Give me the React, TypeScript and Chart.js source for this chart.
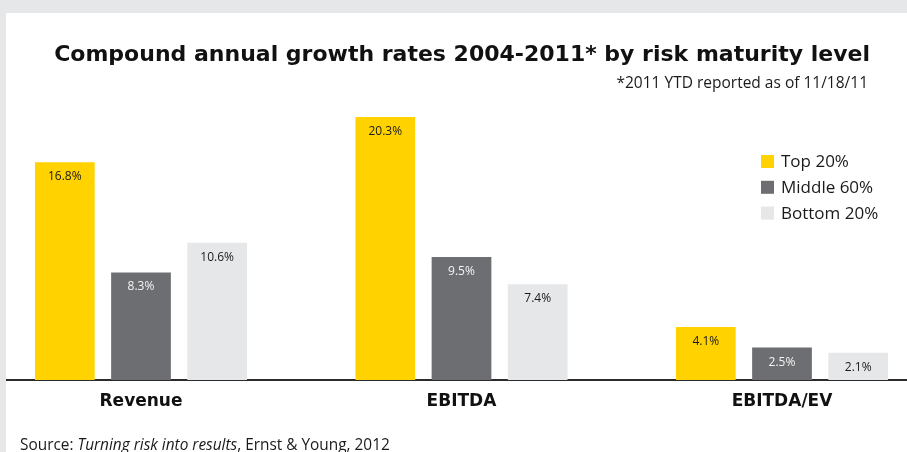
import React, { useEffect, useRef } from "react";
import { Chart, registerables } from "chart.js";

Chart.register(...registerables);

const categories = ["Revenue", "EBITDA", "EBITDA/EV"];
const seriesNames = ["Top 20%", "Middle 60%", "Bottom 20%"];
const top20 = [16.8, 20.3, 4.1];
const middle60 = [8.3, 9.5, 2.5];
const bottom20 = [10.6, 7.4, 2.1];
const seriesColors = ["#FFD200", "#6D6E71", "#E6E7E8"];
const labelColors = ["#1a1a1a", "#f4f4f4", "#1a1a1a"];
const titleText = "Compound annual growth rates 2004-2011* by risk maturity level";
const subtitleText = "*2011 YTD reported as of 11/18/11";
const sourceParts = [
  { text: "Source: ", italic: false },
  { text: "Turning risk into results", italic: true },
  { text: ", Ernst & Young, 2012", italic: false },
];

const SHIFT = 40; // canvas starts 40px left of the page
const CW = 1000;
const CH = 452;

const textPlugin = {
  id: "ey-texts",
  afterDatasetsDraw(chart: any) {
    const ctx = chart.ctx as CanvasRenderingContext2D;
    ctx.save();
    // value labels
    ctx.font = "12px 'Open Sans'";
    ctx.textAlign = "center";
    ctx.textBaseline = "alphabetic";
    chart.data.datasets.forEach((ds: any, di: number) => {
      const meta = chart.getDatasetMeta(di);
      meta.data.forEach((el: any, i: number) => {
        ctx.fillStyle = labelColors[di];
        ctx.fillText(ds.data[i].toFixed(1) + "%", el.x, el.y + 18);
      });
    });
    // legend
    chart.data.datasets.forEach((ds: any, di: number) => {
      const y = 155 + di * 25.8;
      ctx.fillStyle = ds.backgroundColor;
      ctx.fillRect(761 + SHIFT, y, 13, 13);
      ctx.fillStyle = "#1a1a1a";
      ctx.font = "17px 'Open Sans'";
      ctx.textAlign = "left";
      ctx.fillText(ds.label, 781 + SHIFT, y + 12);
    });
    // title
    ctx.fillStyle = "#111";
    ctx.textAlign = "right";
    ctx.font = "bold 22px 'DejaVu Sans'";
    ctx.fillText(titleText, 870 + SHIFT, 61);
    ctx.font = "15.5px 'Open Sans'";
    ctx.fillStyle = "#1a1a1a";
    ctx.fillText(subtitleText, 868 + SHIFT, 88);
    // source
    ctx.textAlign = "left";
    let x = 20 + SHIFT;
    sourceParts.forEach((p) => {
      ctx.font = (p.italic ? "italic " : "") + "15.4px 'Open Sans'";
      ctx.fillText(p.text, x, 450);
      x += ctx.measureText(p.text).width;
    });
    ctx.restore();
  },
};

export default function App() {
  const ref = useRef<HTMLCanvasElement | null>(null);

  useEffect(() => {
    document.body.style.margin = "0";
    const canvas = ref.current;
    if (!canvas) return;
    const data = [top20, middle60, bottom20];
    const chart = new Chart(canvas, {
      type: "bar",
      data: {
        labels: categories,
        datasets: seriesNames.map((name, i) => ({
          label: name,
          data: data[i],
          backgroundColor: seriesColors[i],
          borderWidth: 0,
          categoryPercentage: 0.713,
          barPercentage: 0.784,
        })),
      },
      options: {
        animation: false,
        responsive: false,
        maintainAspectRatio: false,
        layout: { padding: { left: 20.75, right: 17.75, top: 95, bottom: 29.6 } },
        plugins: {
          legend: { display: false },
          title: { display: false },
          tooltip: { enabled: false },
        },
        scales: {
          x: {
            grid: { display: false, drawTicks: false },
            border: { display: true, color: "#2b2b2b", width: 2 },
            ticks: {
              padding: 11,
              color: "#111",
              font: { family: "'DejaVu Sans'", size: 17, weight: "bold" },
            },
          },
          y: {
            display: false,
            min: 0,
            max: 22,
          },
        },
      },
      plugins: [textPlugin],
    });
    return () => chart.destroy();
  }, []);

  return (
    <div
      style={{
        position: "relative",
        width: 907,
        height: 452,
        overflow: "hidden",
        background: "#E6E7E8",
      }}
    >
      <div
        style={{
          position: "absolute",
          left: 6,
          top: 13,
          width: 901,
          height: 439,
          background: "#ffffff",
        }}
      />
      <canvas
        ref={ref}
        width={CW}
        height={CH}
        style={{ position: "absolute", left: -SHIFT, top: 0, width: CW, height: CH }}
      />
      <div
        style={{
          position: "absolute",
          left: 0,
          top: 0,
          width: 6,
          height: 452,
          background: "#E6E7E8",
        }}
      />
    </div>
  );
}
